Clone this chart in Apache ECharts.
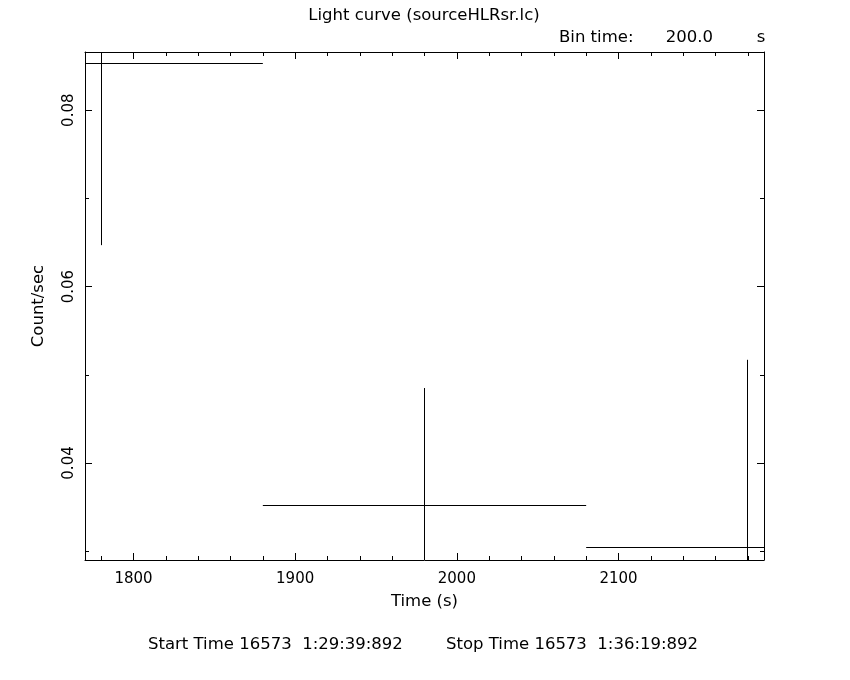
<!DOCTYPE html>
<html>
<head>
<meta charset="utf-8">
<script src="https://cdn.jsdelivr.net/npm/echarts@6/dist/echarts.min.js"></script>
<style>html,body{margin:0;padding:0;background:#fff}#c{width:850px;height:680px}</style>
</head>
<body>
<div id="c"></div>
<script>
// ---- data ----
const binCenters = [1780, 1980, 2180];
const countRates = [0.0853, 0.0352, 0.0304];
const rateErrors = [0.0206, 0.0133, 0.0213];
const binHalfWidth = 100;

const xMajorTicks = [1800, 1900, 2000, 2100];
const xMinorTicks = [1780, 1820, 1840, 1860, 1880, 1920, 1940, 1960, 1980, 2020, 2040, 2060, 2080, 2120, 2140, 2160, 2180];
const yMajorTicks = [0.04, 0.06, 0.08];
const yMinorTicks = [0.03, 0.05, 0.07];

const X_MIN = 1770, X_MAX = 2190;
const Y_MIN = 0.029, Y_MAX = 0.0866;

const titleText = 'Light curve (sourceHLRsr.lc)';
const binLabel = 'Bin time:';
const binValue = '200.0';
const binUnit = 's';
const startText = 'Start Time 16573  1:29:39:892';
const stopText = 'Stop Time 16573  1:36:19:892';

const FONT = 'DejaVu Sans';
const FS = 15;
const FS2 = 16.5;

function xAx(pos, ticks, len, showLabel, showLine) {
  return {
    type: 'value', position: pos, min: X_MIN, max: X_MAX,
    axisLine: { show: showLine, onZero: false, lineStyle: { color: '#000', width: 1 } },
    axisTick: { show: true, inside: true, length: len, customValues: ticks, lineStyle: { color: '#000', width: 1 } },
    axisLabel: { show: showLabel, customValues: ticks, margin: 12, color: '#000', fontFamily: FONT, fontSize: FS, formatter: v => String(v) },
    splitLine: { show: false }, minorTick: { show: false }
  };
}
function yAx(pos, ticks, len, showLabel, showLine) {
  return {
    type: 'value', position: pos, min: Y_MIN, max: Y_MAX,
    axisLine: { show: showLine, onZero: false, lineStyle: { color: '#000', width: 1 } },
    axisTick: { show: true, inside: true, length: len, customValues: ticks, lineStyle: { color: '#000', width: 1 } },
    axisLabel: { show: showLabel, customValues: ticks, rotate: 90, margin: 8, color: '#000', fontFamily: FONT, fontSize: FS, formatter: v => v.toFixed(2) },
    splitLine: { show: false }, minorTick: { show: false }
  };
}

const xAxes = [
  Object.assign(xAx('bottom', xMajorTicks, 7, true, true), {
    name: 'Time (s)', nameLocation: 'middle', nameGap: 33,
    nameTextStyle: { color: '#000', fontFamily: FONT, fontSize: FS2 }
  }),
  xAx('bottom', xMinorTicks, 4, false, false),
  xAx('top', xMajorTicks, 7, false, true),
  xAx('top', xMinorTicks, 4, false, false)
];
const yAxes = [
  Object.assign(yAx('left', yMajorTicks, 7, true, true), {
    name: 'Count/sec', nameLocation: 'middle', nameGap: 38, nameRotate: 90,
    nameTextStyle: { color: '#000', fontFamily: FONT, fontSize: FS2 }
  }),
  yAx('left', yMinorTicks, 4, false, false),
  yAx('right', yMajorTicks, 7, false, true),
  yAx('right', yMinorTicks, 4, false, false)
];

function crisp(v) { return Math.round(v - 0.5) + 0.5; }

const chart = echarts.init(document.getElementById('c'), null, { renderer: 'canvas' });
const font2 = FS2 + 'px "' + FONT + '"';
chart.setOption({
  animation: false,
  backgroundColor: '#fff',
  grid: { left: 85, right: 86, top: 52, bottom: 120, containLabel: false },
  xAxis: xAxes,
  yAxis: yAxes,
  series: [{
    type: 'custom',
    xAxisIndex: 0, yAxisIndex: 0,
    clip: true,
    data: binCenters.map((x, i) => [x, countRates[i], rateErrors[i]]),
    renderItem: function (params, api) {
      const x = api.value(0), y = api.value(1), e = api.value(2);
      const pL = api.coord([x - binHalfWidth, y]);
      const pR = api.coord([x + binHalfWidth, y]);
      const pT = api.coord([x, y + e]);
      const pB = api.coord([x, y - e]);
      const hy = crisp(pL[1]);
      const vx = crisp(pT[0]);
      const style = { stroke: '#000', lineWidth: 1, fill: null };
      return {
        type: 'group',
        children: [
          { type: 'line', shape: { x1: pL[0], y1: hy, x2: pR[0], y2: hy }, style: style },
          { type: 'line', shape: { x1: vx, y1: pT[1], x2: vx, y2: pB[1] }, style: style }
        ]
      };
    }
  }],
  graphic: [
    { type: 'text', x: 424, y: 16, style: { text: titleText, fill: '#000', font: font2, align: 'center', verticalAlign: 'middle' } },
    { type: 'text', x: 559, y: 38, style: { text: binLabel, fill: '#000', font: font2, align: 'left', verticalAlign: 'middle' } },
    { type: 'text', x: 713, y: 38, style: { text: binValue, fill: '#000', font: font2, align: 'right', verticalAlign: 'middle' } },
    { type: 'text', x: 761, y: 38, style: { text: binUnit, fill: '#000', font: font2, align: 'center', verticalAlign: 'middle' } },
    { type: 'text', x: 148, y: 645, style: { text: startText, fill: '#000', font: font2, align: 'left', verticalAlign: 'middle' } },
    { type: 'text', x: 446, y: 645, style: { text: stopText, fill: '#000', font: font2, align: 'left', verticalAlign: 'middle' } }
  ]
});
</script>
</body>
</html>
